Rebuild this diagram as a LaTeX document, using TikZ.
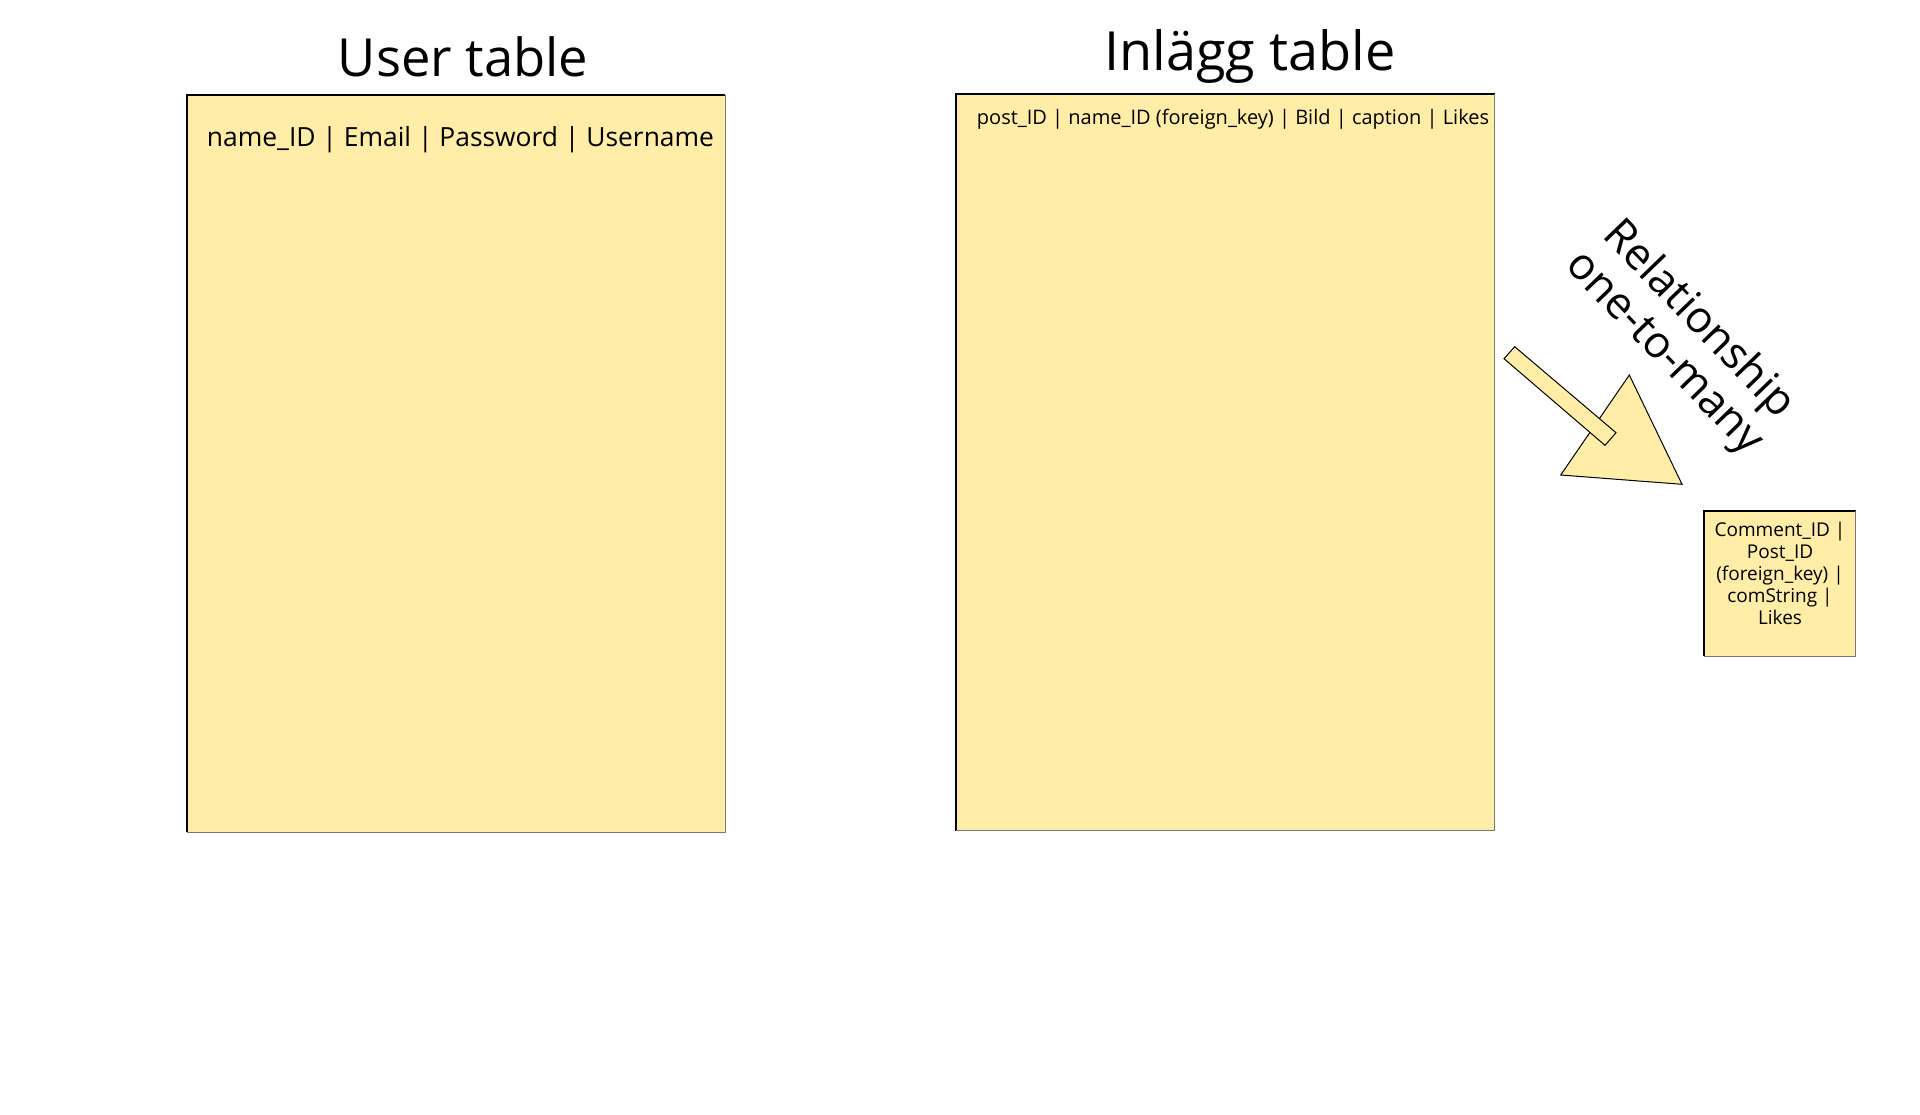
\documentclass[tikz,border=0pt]{standalone}
\usepackage{fontspec}
\setmainfont{Open Sans}
\definecolor{tblfill}{RGB}{255,237,168}
\definecolor{edgegray}{RGB}{120,120,120}
\begin{document}
\begin{tikzpicture}[x=1pt,y=-1pt,
  tbl/.style={fill=tblfill, draw=none, inner sep=0pt, anchor=north west},
  title/.style={anchor=base, inner sep=0pt},
  rowtext/.style={anchor=base, inner sep=0pt},
  shapeyellow/.style={fill=tblfill, draw=black, line width=1pt, line join=miter}
]
\useasboundingbox[fill=white] (0,0) rectangle (1920,1115);

% User table
\node[tbl, minimum width=538pt, minimum height=737pt] (user) at (187,95) {};
\draw[black, line width=1.5pt] (user.south west) -- (user.north west) -- (user.north east);
\draw[edgegray, line width=1pt] (user.north east) -- (user.south east) -- (user.south west);
\node[title, font=\fontsize{52.5}{60}\selectfont] (usertitle) at (463,77) {User table};
\node[rowtext, font=\fontsize{26.4}{32}\selectfont] (userrow) at (460.5,147) {name\_ID | Email | Password | Username};

% Inlagg table
\node[tbl, minimum width=538.5pt, minimum height=736.5pt] (post) at (956,94) {};
\draw[black, line width=1.5pt] (post.south west) -- (post.north west) -- (post.north east);
\draw[edgegray, line width=1pt] (post.north east) -- (post.south east) -- (post.south west);
\node[title, font=\fontsize{54}{62}\selectfont] (posttitle) at (1250,71) {Inlägg table};
\node[rowtext, font=\fontsize{20}{24}\selectfont] (postrow) at (1233,124.5) {post\_ID | name\_ID (foreign\_key) | Bild | caption | Likes};

% Arrow
\draw[shapeyellow] (1629.3,375) -- (1560.7,475) -- (1682,484.3) -- cycle;
\draw[shapeyellow] (1504,358.7) -- (1514.7,346.7) -- (1616,432.7) -- (1605,445.3) -- cycle;
\node[align=center, rotate=-46, inner sep=0pt, font=\fontsize{44}{48}\selectfont] (rel) at (1681,337) {Relationship\\one-to-many};

% Comment table
\node[tbl, minimum width=151.5pt, minimum height=145pt] (comment) at (1704,511) {};
\draw[black, line width=1.5pt] (comment.south west) -- (comment.north west) -- (comment.north east);
\draw[edgegray, line width=1pt] (comment.north east) -- (comment.south east) -- (comment.south west);
\node[align=center, anchor=north, inner sep=0pt, font=\fontsize{19}{22}\selectfont] (commenttext) at (1780,522) {Comment\_ID |\\Post\_ID\\(foreign\_key) |\\comString |\\Likes};
\end{tikzpicture}
\end{document}
